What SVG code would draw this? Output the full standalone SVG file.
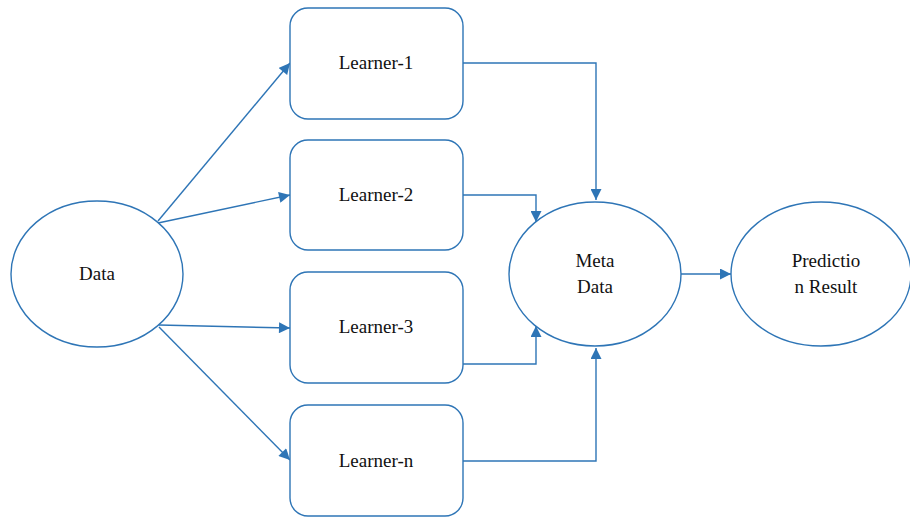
<svg xmlns="http://www.w3.org/2000/svg" width="910" height="517" viewBox="0 0 910 517">
<defs>
<marker id="arr" viewBox="0 0 10 10" refX="10" refY="5" markerWidth="12" markerHeight="11" markerUnits="userSpaceOnUse" orient="auto">
<path d="M0,0 L10,5 L0,10 z" fill="#2E75B6"/>
</marker>
<style>
.n{fill:#fff;stroke:#2E75B6;stroke-width:1.4}
.c{fill:none;stroke:#2E75B6;stroke-width:1.4;marker-end:url(#arr)}
.t{font-size:19px;fill:#111;text-anchor:middle}
</style>
</defs>
<rect width="910" height="517" fill="#fff"/>
<g id="connectors">
<path class="c" d="M158,221 L290,63"/>
<path class="c" d="M158,223 L290,195"/>
<path class="c" d="M159,325 L290,328"/>
<path class="c" d="M159,327 L290,460"/>
<path class="c" d="M463,63 L596,63 L596,200"/>
<path class="c" d="M463,195 L536,195 L536,222"/>
<path class="c" d="M463,364 L536,364 L536,326"/>
<path class="c" d="M463,461 L596,461 L596,348"/>
<path class="c" d="M681,274 L731,274"/>
</g>
<g font-family="'Liberation Serif', 'DejaVu Serif', 'Times New Roman', serif">
<g id="data"><ellipse class="n" cx="97" cy="274" rx="86" ry="73"/><text class="t" x="97" y="280">Data</text></g>
<g id="learner1"><rect class="n" x="290" y="8" width="173" height="111" rx="18"/><text class="t" x="376" y="69">Learner-1</text></g>
<g id="learner2"><rect class="n" x="290" y="140" width="173" height="110" rx="18"/><text class="t" x="376" y="201">Learner-2</text></g>
<g id="learner3"><rect class="n" x="290" y="272" width="173" height="111" rx="18"/><text class="t" x="376" y="333">Learner-3</text></g>
<g id="learnern"><rect class="n" x="290" y="405" width="173" height="111" rx="18"/><text class="t" x="376" y="467">Learner-n</text></g>
<g id="meta"><ellipse class="n" cx="595" cy="274" rx="86" ry="72"/><text class="t" x="595" y="267">Meta</text><text class="t" x="595" y="293">Data</text></g>
<g id="prediction"><ellipse class="n" cx="821" cy="274" rx="90" ry="72"/><text class="t" x="826" y="267">Predictio</text><text class="t" x="826" y="293">n Result</text></g>
</g>
</svg>
